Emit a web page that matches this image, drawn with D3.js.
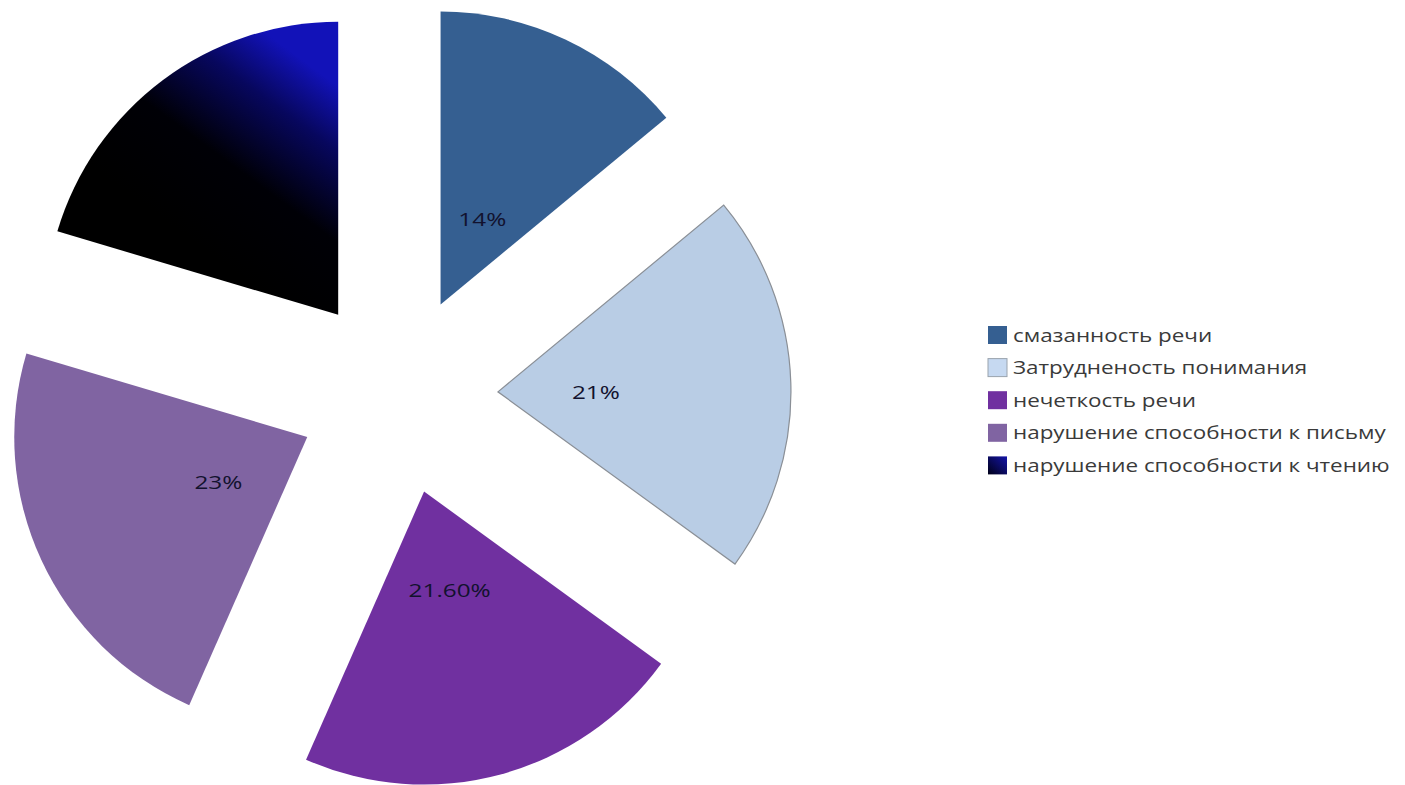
<!DOCTYPE html>
<html>
<head>
<meta charset="utf-8">
<script src="https://cdn.jsdelivr.net/npm/d3@7"></script>
<style>
  html, body { margin: 0; padding: 0; background: #fff; }
  svg { display: block; }
</style>
</head>
<body>
<svg id="chart" width="1405" height="785"></svg>
<script>
// Categories and their shares (percent)
const categories = [
  "смазанность речи",
  "Затрудненость понимания",
  "нечеткость речи",
  "нарушение способности к письму",
  "нарушение способности к чтению"
];
const values = [14, 21, 21.6, 23, 20.4];
const labels = ["14%", "21%", "21.60%", "23%", ""];
const colors = ["#355f91", "#b9cde5", "#7030a0", "#8064a2", "url(#readGrad)"];
const legendColors = ["#355f91", "#c6d9f1", "#7030a0", "#8064a2", "url(#legendGrad)"];

const svg = d3.select("#chart");
const cx = 398, cy = 395, radius = 293, explode = 100;

const defs = svg.append("defs");
const g1 = defs.append("linearGradient").attr("id", "readGrad")
  .attr("gradientUnits", "userSpaceOnUse")
  .attr("x1", 220).attr("y1", 195).attr("x2", 345).attr("y2", 25);
g1.append("stop").attr("offset", "0").attr("stop-color", "#000000");
g1.append("stop").attr("offset", "0.4").attr("stop-color", "#000006");
g1.append("stop").attr("offset", "0.75").attr("stop-color", "#07075e");
g1.append("stop").attr("offset", "1").attr("stop-color", "#1212b8");
const g2 = defs.append("linearGradient").attr("id", "legendGrad")
  .attr("x1", 0).attr("y1", 1).attr("x2", 1).attr("y2", 0);
g2.append("stop").attr("offset", "0").attr("stop-color", "#000018");
g2.append("stop").attr("offset", "1").attr("stop-color", "#1414a8");

const pie = d3.pie().sort(null).value(d => d)(values);
const arc = d3.arc().innerRadius(0).outerRadius(radius);

const slices = svg.append("g").attr("transform", `translate(${cx},${cy})`)
  .selectAll("g").data(pie).join("g")
  .attr("transform", d => {
    const a = (d.startAngle + d.endAngle) / 2;
    return `translate(${explode * Math.sin(a)},${-explode * Math.cos(a)})`;
  });

slices.append("path")
  .attr("d", arc)
  .attr("fill", (d, i) => colors[i])
  .attr("stroke", (d, i) => i === 1 ? "#8a8f96" : "none")
  .attr("stroke-width", 1.2);

// Percentage labels, slightly widened like the rest of the figure
slices.append("g")
  .attr("transform", d => {
    const a = (d.startAngle + d.endAngle) / 2;
    return `translate(${98 * Math.sin(a)},${-98 * Math.cos(a) + 4}) scale(1.28,1)`;
  })
  .append("text")
  .attr("text-anchor", "middle")
  .attr("dy", "0.35em")
  .attr("font-family", "'Open Sans', 'DejaVu Sans', sans-serif")
  .attr("font-size", 19)
  .attr("fill", "#12122e")
  .text((d, i) => labels[i]);

// Legend
const legend = svg.append("g").attr("transform", "translate(988,335)");
const rows = legend.selectAll("g").data(categories).join("g")
  .attr("transform", (d, i) => `translate(0,${i * 32.6})`);
rows.append("rect")
  .attr("x", 0).attr("y", -9).attr("width", 19).attr("height", 18)
  .attr("fill", (d, i) => legendColors[i])
  .attr("stroke", (d, i) => i === 1 ? "#9aa3ad" : "none");
rows.append("g")
  .attr("transform", "translate(25,0) scale(1.18,1)")
  .append("text")
  .attr("dy", "0.35em")
  .attr("font-family", "'Open Sans', 'DejaVu Sans', sans-serif")
  .attr("font-size", 19)
  .attr("fill", "#3a3a3a")
  .text(d => d);
</script>
</body>
</html>
